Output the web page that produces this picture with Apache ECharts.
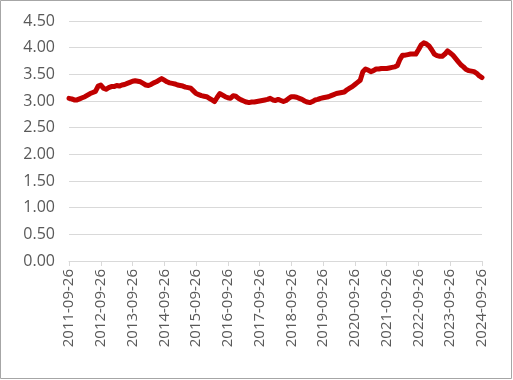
<!DOCTYPE html>
<html>
<head>
<meta charset="utf-8">
<script src="https://cdn.jsdelivr.net/npm/echarts@6/dist/echarts.min.js"></script>
<style>
html,body{margin:0;padding:0;background:#fff;}
#chart{width:513px;height:380px;}
</style>
</head>
<body>
<div id="chart"></div>
<script>
// Monthly observations from 2011-09-26 to 2024-09-26
var startYear = 2011, startMonth = 9, day = 26;
var values = [
  3.05,3.04,3.02,3.02,3.04,3.06,3.08,3.11,3.14,3.16,3.18,3.28,
  3.30,3.24,3.22,3.25,3.27,3.27,3.29,3.28,3.30,3.31,3.33,3.35,
  3.37,3.38,3.37,3.36,3.33,3.30,3.29,3.31,3.34,3.36,3.39,3.42,
  3.39,3.36,3.34,3.33,3.32,3.30,3.29,3.28,3.26,3.25,3.24,3.19,
  3.14,3.12,3.10,3.09,3.08,3.05,3.02,2.99,3.07,3.14,3.11,3.08,
  3.06,3.05,3.10,3.09,3.05,3.02,3.00,2.98,2.97,2.98,2.98,2.99,
  3.00,3.01,3.02,3.03,3.05,3.02,3.01,3.03,3.01,2.99,3.01,3.05,
  3.08,3.08,3.07,3.05,3.03,3.00,2.98,2.97,2.99,3.02,3.03,3.05,
  3.06,3.07,3.08,3.10,3.12,3.14,3.15,3.16,3.17,3.21,3.24,3.27,
  3.31,3.35,3.39,3.55,3.60,3.58,3.55,3.57,3.60,3.60,3.61,3.61,
  3.61,3.62,3.63,3.64,3.66,3.78,3.86,3.86,3.87,3.88,3.88,3.88,
  3.96,4.05,4.09,4.07,4.03,3.96,3.88,3.85,3.84,3.84,3.88,3.94,
  3.90,3.86,3.80,3.74,3.68,3.64,3.59,3.57,3.56,3.55,3.52,3.47,
  3.44
];
var yTicks = [0,0.5,1,1.5,2,2.5,3,3.5,4,4.5];

var categories = [];
for (var i = 0; i < values.length; i++) {
  var m = startMonth - 1 + i;
  var y = startYear + Math.floor(m / 12);
  var mm = (m % 12) + 1;
  categories.push(y + '-' + (mm < 10 ? '0' : '') + mm + '-' + day);
}

var chart = echarts.init(document.getElementById('chart'), null, {renderer:'canvas'});
var font = '"Open Sans", "Liberation Sans", sans-serif';
chart.setOption({
  animation:false,
  backgroundColor:'#fff',
  grid:{left:69,right:31,top:21,bottom:119,containLabel:false},
  xAxis:{
    type:'category',
    data:categories,
    boundaryGap:false,
    axisLine:{lineStyle:{color:'#d9d9d9',width:1}},
    axisTick:{show:true,interval:11,length:5,lineStyle:{color:'#d9d9d9'}},
    axisLabel:{interval:11,rotate:90,color:'#595959',fontSize:15,fontFamily:font,margin:8},
    splitLine:{show:false}
  },
  yAxis:{
    type:'value',
    min:yTicks[0],
    max:yTicks[yTicks.length-1],
    interval:0.5,
    axisLine:{show:false},
    axisTick:{show:false},
    axisLabel:{color:'#595959',fontSize:16,fontFamily:font,margin:14,
      formatter:function(v){return v.toFixed(2);}},
    splitLine:{lineStyle:{color:'#d9d9d9',width:1}}
  },
  series:[{
    type:'line',
    data:values,
    showSymbol:false,
    symbol:'none',
    lineStyle:{color:'#c00000',width:5,join:'round',cap:'round'},
    z:3
  }],
  graphic:[{
    type:'rect',
    shape:{x:0.5,y:0.5,width:511,height:378},
    style:{fill:'none',stroke:'#a6a6a6',lineWidth:1},
    silent:true
  }]
});
</script>
</body>
</html>
